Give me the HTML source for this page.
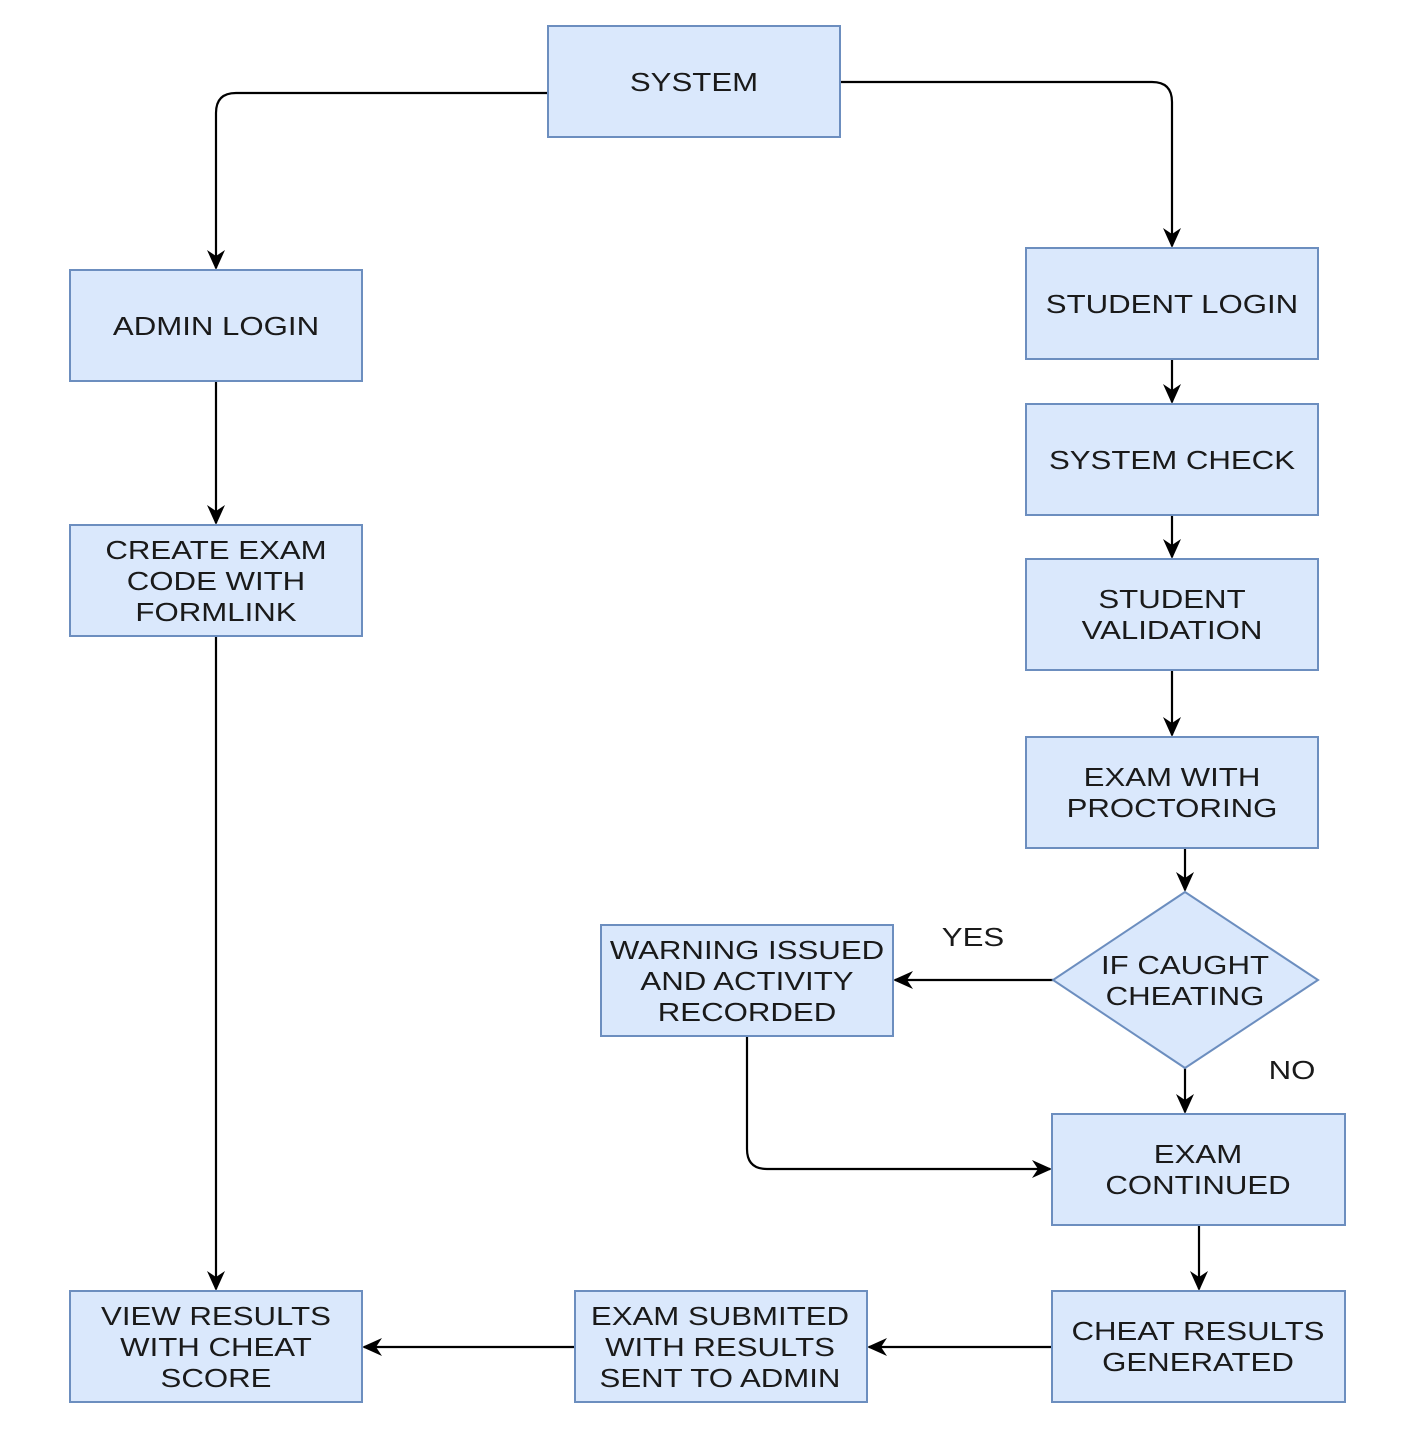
<!DOCTYPE html>
<html><head><meta charset="utf-8"><style>
html,body{margin:0;padding:0;background:#fff;}
svg{display:block;}
text{font-family:"Liberation Sans",Arial,sans-serif;font-size:26px;fill:#1a1a1a;text-anchor:middle;transform-box:fill-box;transform-origin:center;transform:scaleX(1.2);}
rect,polygon.d{fill:#dae8fc;stroke:#6c8ebf;stroke-width:2;}
path.c{fill:none;stroke:#000;stroke-width:2.2;}
</style></head><body>
<svg width="1414" height="1438" viewBox="0 0 1414 1438" xmlns="http://www.w3.org/2000/svg">
<defs><marker id="a" markerWidth="20" markerHeight="20" refX="18" refY="9" orient="auto" markerUnits="userSpaceOnUse"><path d="M0,0 L20,9 L0,18 L6,9 z" fill="#000"/></marker></defs>
<path class="c" d="M548,93 H236 Q216,93 216,113 V268" marker-end="url(#a)"/>
<path class="c" d="M840,82 H1152 Q1172,82 1172,102 V246" marker-end="url(#a)"/>
<path class="c" d="M216,381 V523" marker-end="url(#a)"/>
<path class="c" d="M216,636 V1289" marker-end="url(#a)"/>
<path class="c" d="M1172,359 V402" marker-end="url(#a)"/>
<path class="c" d="M1172,515 V557" marker-end="url(#a)"/>
<path class="c" d="M1172,670 V735" marker-end="url(#a)"/>
<path class="c" d="M1185,848 V890" marker-end="url(#a)"/>
<path class="c" d="M1053,980 H895" marker-end="url(#a)"/>
<path class="c" d="M1185,1068 V1112" marker-end="url(#a)"/>
<path class="c" d="M747,1036 V1149 Q747,1169 767,1169 H1050" marker-end="url(#a)"/>
<path class="c" d="M1199,1225 V1289" marker-end="url(#a)"/>
<path class="c" d="M1052,1347 H869" marker-end="url(#a)"/>
<path class="c" d="M575,1347 H364" marker-end="url(#a)"/>
<rect x="548" y="26" width="292" height="111"/><text x="694" y="91">SYSTEM</text>
<rect x="70" y="270" width="292" height="111"/><text x="216" y="335">ADMIN LOGIN</text>
<rect x="70" y="525" width="292" height="111"/><text x="216" y="559">CREATE EXAM</text><text x="216" y="590">CODE WITH</text><text x="216" y="621">FORMLINK</text>
<rect x="70" y="1291" width="292" height="111"/><text x="216" y="1325">VIEW RESULTS</text><text x="216" y="1356">WITH CHEAT</text><text x="216" y="1387">SCORE</text>
<rect x="1026" y="248" width="292" height="111"/><text x="1172" y="313">STUDENT LOGIN</text>
<rect x="1026" y="404" width="292" height="111"/><text x="1172" y="469">SYSTEM CHECK</text>
<rect x="1026" y="559" width="292" height="111"/><text x="1172" y="608">STUDENT</text><text x="1172" y="639">VALIDATION</text>
<rect x="1026" y="737" width="292" height="111"/><text x="1172" y="786">EXAM WITH</text><text x="1172" y="817">PROCTORING</text>
<polygon class="d" points="1185,892 1318,980 1185,1068 1053,980"/><text x="1185" y="974">IF CAUGHT</text><text x="1185" y="1005">CHEATING</text>
<rect x="601" y="925" width="292" height="111"/><text x="747" y="959">WARNING ISSUED</text><text x="747" y="990">AND ACTIVITY</text><text x="747" y="1021">RECORDED</text>
<rect x="1052" y="1114" width="293" height="111"/><text x="1198" y="1163">EXAM</text><text x="1198" y="1194">CONTINUED</text>
<rect x="1052" y="1291" width="293" height="111"/><text x="1198" y="1340">CHEAT RESULTS</text><text x="1198" y="1371">GENERATED</text>
<rect x="575" y="1291" width="292" height="111"/><text x="720" y="1325">EXAM SUBMITED</text><text x="720" y="1356">WITH RESULTS</text><text x="720" y="1387">SENT TO ADMIN</text>
<text x="973" y="946">YES</text>
<text x="1292" y="1079">NO</text>
</svg>
</body></html>
